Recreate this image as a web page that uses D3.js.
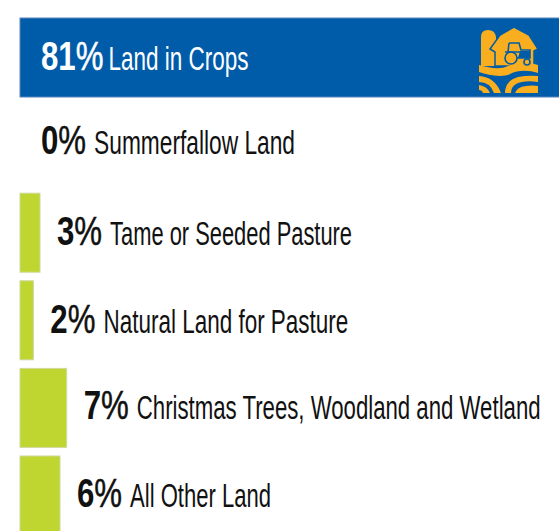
<!DOCTYPE html>
<html>
<head>
<meta charset="utf-8">
<style>
  html, body { margin: 0; padding: 0; background: #fff; overflow: hidden; }
  svg { display: block; }
  text { font-family: "Liberation Sans", sans-serif; }
  .pct { font-size: 40px; }
  .pct .num { font-weight: 700; }
  .name { font-size: 34px; }
</style>
<script src="https://cdn.jsdelivr.net/npm/d3@7"></script>
</head>
<body>
<div id="graph"></div>
<script>
const categories = ["Land in Crops", "Summerfallow Land", "Tame or Seeded Pasture",
  "Natural Land for Pasture", "Christmas Trees, Woodland and Wetland", "All Other Land"];
const percents = [81, 0, 3, 2, 7, 6];
const rows = categories.map(function (c, i) { return { name: c, value: percents[i] }; });

// the reference uses a condensed face, so text is squeezed to these widths
const nameWidths = [140, 201, 242, 245, 404, 141];
const nameGaps = [5, 8, 8, 8, 8, 8];
const baselines = [70, 154, 245, 333, 419, 507];
const pctSqueeze = 0.78;

const svg = d3.select("#graph").append("svg")
  .attr("width", 559)
  .attr("height", 531);

const x = d3.scaleLinear().domain([0, 81]).range([20, 560]);
const y = d3.scaleBand().domain(categories).range([18, 535]).paddingInner(0.098);

svg.selectAll("rect.bar")
  .data(rows)
  .enter().append("rect")
  .attr("class", "bar")
  .attr("x", x(0))
  .attr("y", function (d) { return y(d.name); })
  .attr("width", function (d) { return x(d.value) - x(0); })
  .attr("height", y.bandwidth())
  .attr("fill", function (d, i) { return i == 0 ? "#005ca9" : "#bed62f"; })
  .attr("stroke", function (d, i) { return i == 0 ? "#5b86c0" : "#cfd8a0"; })
  .attr("stroke-width", function (d) { return d.value > 0 ? 1 : 0; });

function startX(d, i) {
  return i == 0 ? 41 : x(d.value) + (d.value == 0 ? 21 : 17);
}

function textColor(d, i) {
  return i == 0 ? "#fff" : "#111";
}

const pct = svg.selectAll("text.pct")
  .data(rows)
  .enter().append("text")
  .attr("class", "pct")
  .attr("fill", textColor)
  .attr("transform", function (d, i) {
    return "translate(" + startX(d, i) + "," + baselines[i] + ") scale(" + pctSqueeze + ",1)";
  });

pct.append("tspan").attr("class", "num").text(function (d) { return d.value; });
pct.append("tspan")
  .attr("stroke", textColor)
  .attr("stroke-width", 0.5)
  .text("%");

svg.selectAll("text.name")
  .data(rows)
  .enter().append("text")
  .attr("class", "name")
  .attr("fill", textColor)
  .text(function (d) { return d.name; })
  .attr("transform", function (d, i) {
    const pctEnd = startX(d, i) + pct.nodes()[i].getComputedTextLength() * pctSqueeze;
    const sx = nameWidths[i] / this.getComputedTextLength();
    return "translate(" + (pctEnd + nameGaps[i]) + "," + baselines[i] + ") scale(" + sx + ",1)";
  });

// barn and tractor logo in the blue bar
const gold = "#f9ae1f";
const blue = "#005ca9";
const logo = svg.append("g").attr("transform", "translate(478,27)");

logo.append("path").attr("fill", gold)
  .attr("d", "M3 39V10Q3 3 10 3T18 10V39Z");
logo.append("path").attr("fill", gold).attr("stroke", blue).attr("stroke-width", 1.5)
  .attr("d", "M17 39V25L12 22L22 8L36 0L51 8L60 22L56 24V39Z");
[
  "M1 38C12 41 22 43 30 39C40 34 50 35 60 38V46C50 43 40 43 32 47C24 51 10 48 1 45Z",
  "M1 49Q17 50 23 66H16Q12 55 1 55Z",
  "M1 58Q9 59 12 66H5Q4 63 1 63Z",
  "M27 66Q27 54 40 50Q50 48 60 49V55Q46 53 38 57Q33 60 33 66Z",
  "M37 66Q39 60 48 59Q55 58 60 59V66Z"
].forEach(function (p) {
  logo.append("path").attr("fill", gold).attr("d", p);
});

const tractor = logo.append("g").attr("fill", "none").attr("stroke", blue).attr("stroke-width", 1.6);
tractor.append("circle").attr("cx", 33).attr("cy", 31).attr("r", 6);
tractor.append("circle").attr("cx", 49).attr("cy", 35).attr("r", 3);
tractor.append("path").attr("d", "M31 16H41L43 23H52V31H39M31 16L30 25M27 25H42");
tractor.append("path").attr("fill", blue).attr("stroke", "none").attr("d", "M42 24H52V31H40Z");
</script>
</body>
</html>
